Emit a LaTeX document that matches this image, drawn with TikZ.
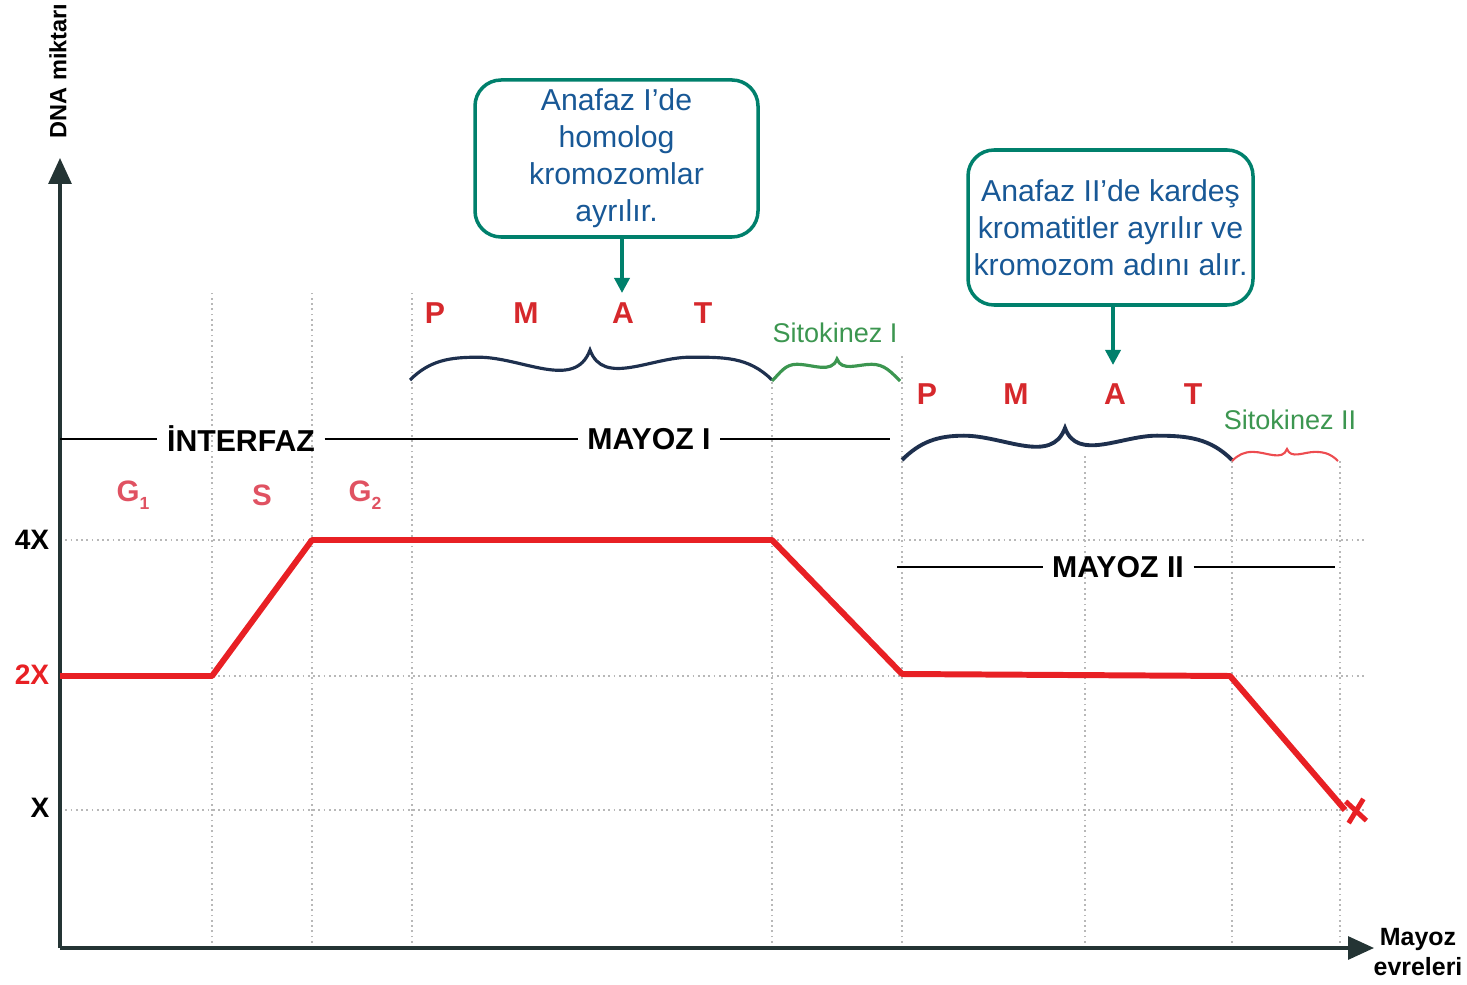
\documentclass[tikz,border=0pt]{standalone}
\usepackage{fontspec}
\setmainfont{Liberation Sans}
\usetikzlibrary{arrows.meta}
\usetikzlibrary{shapes.misc}

\definecolor{dnared}{RGB}{232,32,36}
\definecolor{stagered}{RGB}{214,40,44}
\definecolor{gred}{RGB}{224,82,98}
\definecolor{boxteal}{RGB}{0,128,108}
\definecolor{boxtext}{RGB}{24,88,150}
\definecolor{bracenavy}{RGB}{30,48,78}
\definecolor{sitogreen}{RGB}{60,150,80}
\definecolor{axisdark}{RGB}{36,52,52}

% wavy phase brace: options, left x, tip x, right x, base y, height
\newcommand{\phasebrace}[6]{%
  \pgfmathsetmacro{\braceqa}{#2+0.38*(#3-#2)}%
  \pgfmathsetmacro{\braceqb}{#3+0.55*(#4-#3)}%
  \pgfmathsetmacro{\bracepk}{#5+0.76*#6}%
  \pgfmathsetmacro{\bracetip}{#5+#6}%
  \draw[#1] (#2,#5) to[out=45,in=180] (\braceqa,\bracepk)
    to[out=0,in=-110] (#3,\bracetip)
    to[out=-70,in=180] (\braceqb,\bracepk)
    to[out=0,in=135] (#4,#5);}
\newcommand{\gsub}[1]{\raisebox{-0.55ex}{\fontsize{5}{6}\selectfont #1}}

\tikzset{
  grid line/.style={densely dotted, black!28, line width=0.5pt},
  axis/.style={axisdark, line width=0.9pt, -{Triangle[length=2.6mm,width=2.3mm]}},
  axis label/.style={font=\bfseries\fontsize{7.1}{8.5}\selectfont, text=black, align=center, inner sep=0},
  level/.style={font=\bfseries\fontsize{8}{9}\selectfont, inner sep=0},
  dna/.style={dnared, line width=1.7pt, line join=round},
  phase/.style={font=\bfseries\fontsize{8.6}{10}\selectfont, inner sep=0.09cm},
  phase line/.style={black, line width=0.8pt},
  stage/.style={font=\bfseries\fontsize{8.6}{10}\selectfont, text=stagered},
  gstage/.style={font=\bfseries\fontsize{8.4}{10}\selectfont, text=gred},
  sito/.style={font=\fontsize{7.7}{9}\selectfont, text=sitogreen},
  callout/.style={draw=boxteal, line width=1pt, rounded corners=0.26cm, text=boxtext,
    align=center, font=\fontsize{8.6}{10.5}\selectfont, inner sep=0},
  callout arrow/.style={boxteal, line width=1pt, -{Triangle[length=1.5mm,width=1.5mm]}},
  xmark/.style={cross out, draw=dnared, line width=1.4pt, inner sep=0, minimum width=0.13cm, minimum height=0.17cm, rotate=8}
}

\begin{document}
\begin{tikzpicture}
  \useasboundingbox (0,0) rectangle (14.67,9.84);

  % grid
  \foreach \x/\ytop in {2.12/6.94, 3.12/6.94, 4.12/6.94, 7.72/6.04, 9.02/6.29, 10.85/5.31, 12.32/5.24, 13.40/5.24}
    \draw[grid line] (\x,0.36) -- (\x,\ytop);
  \foreach \y in {4.44, 3.08, 1.74}
    \draw[grid line] (0.6,\y) -- (13.65,\y);

  % axes
  \coordinate (origin) at (0.6,0.36);
  \coordinate (ytip) at (0.6,8.26);
  \coordinate (xtip) at (13.74,0.36);
  \draw[axis] (origin) -- (ytip);
  \draw[axis] (origin) -- (xtip);
  \node[axis label, rotate=90, font=\bfseries\fontsize{6.7}{8}\selectfont] (ylabel) at (0.58,9.13) {DNA miktarı};
  \node[axis label] (xlabel) at (14.18,0.32) {Mayoz\\evreleri};

  \node[level] (fourX) at (0.32,4.44) {4X};
  \node[level, text=dnared] (twoX) at (0.32,3.09) {2X};
  \node[level] (oneX) at (0.40,1.76) {X};

  % DNA amount
  \draw[dna] (0.6,3.08) -- (2.12,3.08) -- (3.12,4.44) -- (7.72,4.44) -- (9.02,3.10) -- (12.30,3.08) -- (13.45,1.74);
  \node[xmark] (endmark) at (13.56,1.73) {};

  % interfaz
  \node[gstage] (gone) at (1.33,4.89) {G\gsub{1}};
  \node[gstage] (sphase) at (2.62,4.89) {S};
  \node[gstage] (gtwo) at (3.65,4.89) {G\gsub{2}};

  \coordinate (lineIa) at (0.6,5.45);
  \coordinate (lineIb) at (8.90,5.45);
  \node[phase] (interfaz) at (2.41,5.45) {İNTERFAZ};
  \node[phase] (mayozI) at (6.49,5.45) {MAYOZ I};
  \draw[phase line] (lineIa) -- (interfaz);
  \draw[phase line] (interfaz) -- (mayozI);
  \draw[phase line] (mayozI) -- (lineIb);

  \coordinate (lineIIa) at (8.97,4.17);
  \coordinate (lineIIb) at (13.35,4.17);
  \node[phase] (mayozII) at (11.18,4.17) {MAYOZ II};
  \draw[phase line] (lineIIa) -- (mayozII);
  \draw[phase line] (mayozII) -- (lineIIb);

  % mayoz I
  \foreach \l/\x in {P/4.35, M/5.26, A/6.23, T/7.03}
    \node[stage] (stI-\l) at (\x,6.71) {\l};
  \phasebrace{bracenavy, line width=0.9pt}{4.10}{5.90}{7.72}{6.04}{0.30}
  \phasebrace{sitogreen, line width=0.9pt}{7.72}{8.37}{9.00}{6.03}{0.22}
  \node[sito] (sitoI) at (8.35,6.51) {Sitokinez I};

  % mayoz II
  \foreach \l/\x in {P/9.27, M/10.16, A/11.15, T/11.93}
    \node[stage] (stII-\l) at (\x,5.90) {\l};
  \phasebrace{bracenavy, line width=1.1pt}{9.02}{10.65}{12.32}{5.24}{0.32}
  \phasebrace{dnared!80, line width=0.6pt}{12.32}{12.87}{13.38}{5.23}{0.12}
  \node[sito] (sitoII) at (12.90,5.64) {Sitokinez II};

  % callouts
  \node[callout, minimum width=2.83cm, minimum height=1.57cm] (callI) at (6.165,8.255)
    {Anafaz I'de\\homolog\\kromozomlar\\ayrılır.};
  \coordinate (anaI) at (6.22,6.91);
  \draw[callout arrow] (callI.south -| anaI) -- (anaI);

  \node[callout, minimum width=2.85cm, minimum height=1.55cm] (callII) at (11.105,7.565)
    {Anafaz II'de kardeş\\kromatitler ayrılır ve\\kromozom adını alır.};
  \coordinate (anaII) at (11.13,6.19);
  \draw[callout arrow] (callII.south -| anaII) -- (anaII);
\end{tikzpicture}
\end{document}
